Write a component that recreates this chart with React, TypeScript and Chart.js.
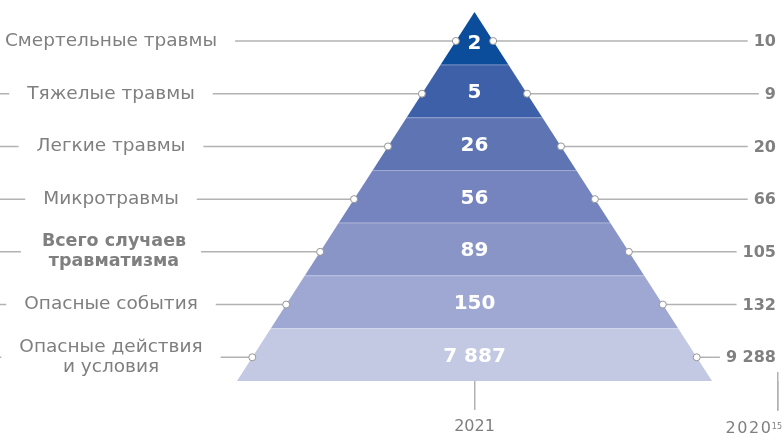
import React, { useEffect, useRef } from "react";
import { Chart, registerables } from "chart.js";

Chart.register(...registerables);

// ---- data ----
const categories = [
  "Смертельные травмы",
  "Тяжелые травмы",
  "Легкие травмы",
  "Микротравмы",
  "Всего случаев\nтравматизма",
  "Опасные события",
  "Опасные действия\nи условия",
];
const boldRows = [false, false, false, false, true, false, false];
const values2021 = [2, 5, 26, 56, 89, 150, 7887];
const values2020 = [10, 9, 20, 66, 105, 132, 9288];
const yearLabels = ["2021", "2020"];
const yearFootnotes = ["", "15"];
const layerColors = ["#0b4c9b", "#3e60a9", "#5f75b3", "#7584be", "#8995c7", "#9ea8d2", "#c3c8e3"];

// ---- layout constants ----
const FONT = "'DejaVu Sans', sans-serif";
const TEXT_GREY = "#7f7f7f";
const LINE_GREY = "#b2b2b2";
const X_MIN = -474.5 / 237.5;
const X_MAX = X_MIN + 782 / 237.5;
const YEAR_TICKS = [0, 1.278];
const LABEL_CENTER_X = 111;
const VALUE_RIGHT_X = 776;
const N = categories.length;
const DOT_OFFSET = 0.55;

const fmt = (n: number) => n.toString().replace(/\B(?=(\d{3})+(?!\d))/g, " ");

const pyramidPlugin = {
  id: "pyramid",
  beforeDatasetsDraw(chart: any) {
    const { ctx, scales } = chart;
    const xs = scales.x;
    const ys = scales.y;
    ctx.save();
    for (let i = 0; i < N; i++) {
      const t = i / N;
      const b = (i + 1) / N;
      ctx.beginPath();
      ctx.moveTo(xs.getPixelForValue(-t), ys.getPixelForValue(i));
      ctx.lineTo(xs.getPixelForValue(t), ys.getPixelForValue(i));
      ctx.lineTo(xs.getPixelForValue(b), ys.getPixelForValue(i + 1));
      ctx.lineTo(xs.getPixelForValue(-b), ys.getPixelForValue(i + 1));
      ctx.closePath();
      ctx.fillStyle = layerColors[i];
      ctx.fill();
      if (i > 0) {
        ctx.beginPath();
        ctx.moveTo(xs.getPixelForValue(-t), ys.getPixelForValue(i) + 0.5);
        ctx.lineTo(xs.getPixelForValue(t), ys.getPixelForValue(i) + 0.5);
        ctx.strokeStyle = "rgba(255,255,255,0.18)";
        ctx.lineWidth = 1;
        ctx.stroke();
      }
    }
    for (let i = 0; i < N; i++) {
      const yv = i + DOT_OFFSET;
      const py = ys.getPixelForValue(yv);
      const lx = xs.getPixelForValue(-yv / N);
      const rx = xs.getPixelForValue(yv / N);
      ctx.strokeStyle = LINE_GREY;
      ctx.lineWidth = 1.5;
      ctx.beginPath();
      ctx.moveTo(0, py);
      ctx.lineTo(lx, py);
      ctx.stroke();

      ctx.font = `bold 16px ${FONT}`;
      const vw = ctx.measureText(fmt(values2020[i])).width;
      ctx.beginPath();
      ctx.moveTo(rx, py);
      ctx.lineTo(VALUE_RIGHT_X - vw - 6, py);
      ctx.stroke();

      const lines = categories[i].split("\n");
      ctx.font = boldRows[i] ? `bold 17.5px ${FONT}` : `18.5px ${FONT}`;
      const w = Math.max(...lines.map((l) => ctx.measureText(l).width));
      const lh = 20;
      const h = lines.length * lh;
      ctx.fillStyle = "#ffffff";
      ctx.fillRect(LABEL_CENTER_X - w / 2 - 18, py - h / 2 - 2, w + 36, h + 4);
      ctx.fillStyle = TEXT_GREY;
      ctx.textAlign = "center";
      ctx.textBaseline = "middle";
      lines.forEach((l, k) => {
        ctx.fillText(l, LABEL_CENTER_X + (boldRows[i] ? 3 : 0), py - h / 2 + lh / 2 + k * lh);
      });
      ctx.font = `bold 16px ${FONT}`;
      ctx.textAlign = "right";
      ctx.fillStyle = "#808080";
      ctx.fillText(fmt(values2020[i]), VALUE_RIGHT_X, py + 1);
    }
    ctx.restore();
  },
  afterDatasetsDraw(chart: any) {
    const { ctx, scales } = chart;
    const xs = scales.x;
    const ys = scales.y;
    ctx.save();
    ctx.font = `bold 20px ${FONT}`;
    ctx.fillStyle = "#ffffff";
    ctx.textAlign = "center";
    ctx.textBaseline = "middle";
    for (let i = 0; i < N; i++) {
      const py = ys.getPixelForValue(i + 0.5) + (i === 0 ? 5 : 2);
      ctx.fillText(fmt(values2021[i]), xs.getPixelForValue(0), py);
    }
    ctx.restore();
  },
  afterDraw(chart: any) {
    const { ctx, scales, chartArea } = chart;
    const xs = scales.x;
    ctx.save();
    // last year's tick: line starts a little above the axis, label pushed to the right edge
    const last = YEAR_TICKS.length - 1;
    const tx = Math.min(Math.round(xs.getPixelForValue(YEAR_TICKS[last])), 778) - 0.25;
    ctx.strokeStyle = LINE_GREY;
    ctx.lineWidth = 1.5;
    ctx.beginPath();
    ctx.moveTo(tx, chartArea.bottom - 9);
    ctx.lineTo(tx, chartArea.bottom + 30);
    ctx.stroke();

    ctx.font = `8px ${FONT}`;
    const sw = ctx.measureText(yearFootnotes[last]).width;
    ctx.fillStyle = TEXT_GREY;
    ctx.textBaseline = "alphabetic";
    ctx.textAlign = "right";
    ctx.fillText(yearFootnotes[last], 782, 429);
    ctx.font = `16px ${FONT}`;
    (ctx as any).letterSpacing = "1.5px";
    ctx.fillText(yearLabels[last], 782 - sw + 0.5, 433);
    ctx.restore();
  },
};

export default function App() {
  const ref = useRef<HTMLCanvasElement | null>(null);
  useEffect(() => {
    if (!ref.current) return;
    const dots: { x: number; y: number }[] = [];
    for (let i = 0; i < N; i++) {
      const yv = i + DOT_OFFSET;
      dots.push({ x: -yv / N, y: yv });
      dots.push({ x: yv / N, y: yv });
    }
    const chart = new Chart(ref.current, {
      type: "scatter",
      data: {
        datasets: [
          {
            data: dots,
            pointRadius: 3.5,
            pointBackgroundColor: "#ffffff",
            pointBorderColor: "#959595",
            pointBorderWidth: 1,
          },
        ],
      },
      options: {
        animation: false,
        responsive: false,
        maintainAspectRatio: false,
        layout: { autoPadding: false, padding: { top: 12, left: 0, right: 0, bottom: 0 } },
        plugins: { legend: { display: false }, tooltip: { enabled: false } },
        scales: {
          y: { type: "linear", reverse: true, min: 0, max: N, display: false },
          x: {
            type: "linear",
            min: X_MIN,
            max: X_MAX,
            afterBuildTicks: (s: any) => {
              s.ticks = YEAR_TICKS.map((v) => ({ value: v }));
            },
            afterFit: (s: any) => {
              s.height = 54;
              s.paddingLeft = 0;
              s.paddingRight = 0;
            },
            ticks: {
              // the last label is drawn by the plugin (right-aligned with its footnote)
              callback: (_v: any, idx: number) => (idx === YEAR_TICKS.length - 1 ? "" : yearLabels[idx]),
              font: { family: FONT, size: 16 },
              color: TEXT_GREY,
              padding: 7,
              autoSkip: false,
              maxRotation: 0,
            },
            grid: {
              drawOnChartArea: false,
              drawTicks: true,
              tickLength: 29,
              color: LINE_GREY,
              lineWidth: 1.5,
            },
            border: { display: false },
          },
        },
      },
      plugins: [pyramidPlugin],
    });
    return () => chart.destroy();
  }, []);
  return (
    <div style={{ position: "absolute", left: 0, top: 0, width: 782, height: 435, background: "#fff" }}>
      <canvas ref={ref} width={782} height={435} style={{ width: 782, height: 435 }} />
    </div>
  );
}
